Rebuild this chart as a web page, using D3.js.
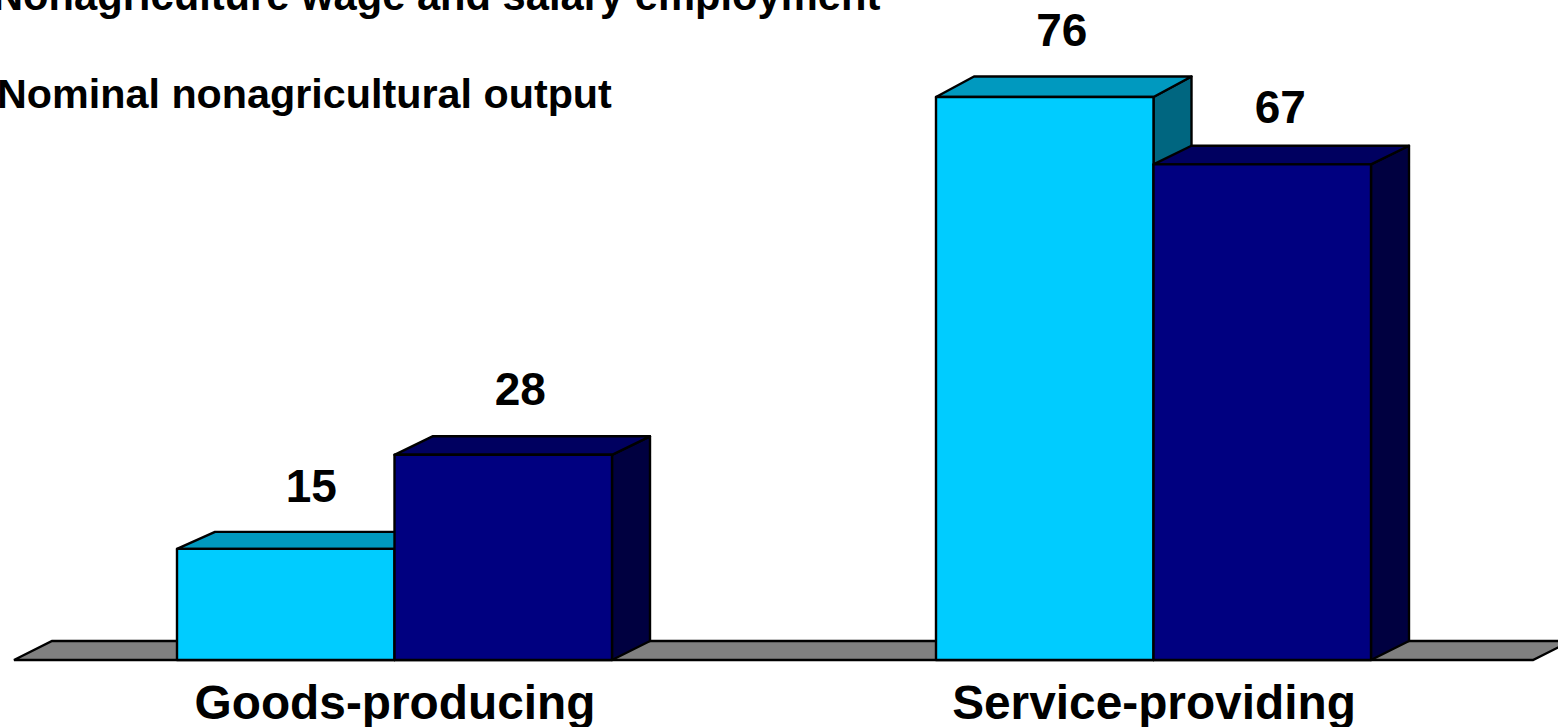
<!DOCTYPE html>
<html>
<head>
<meta charset="utf-8">
<script src="https://cdn.jsdelivr.net/npm/d3@7"></script>
<style>
  html, body { margin: 0; padding: 0; background: #fff; overflow: hidden; }
  text { font-family: "Liberation Sans", Arial, sans-serif; font-weight: bold; fill: #000; }
</style>
</head>
<body>
<div id="chart"></div>
<script>
var categories = ["Goods-producing", "Service-providing"];
var seriesNames = ["Nonagriculture wage and salary employment", "Nominal nonagricultural output"];
var employment = [15, 76];
var output = [27.7, 66.9];

var width = 1558, height = 727;
var baseY = 660;
var depthX = 38, depthY = 19;

var colors = [
  { front: "#00ccff", top: "#0099bf", side: "#006680" },
  { front: "#000080", top: "#000060", side: "#000040" }
];

// hand placed in the source slide, per bar: label dx, label gap, top face depth
var labelDx = [25.5, 17, 17, 18];
var labelGap = [47, 50, 51, 41];
var topDepth = [17, 18.5, 20.5, 18.7];

var svg = d3.select("#chart").append("svg")
  .attr("width", width)
  .attr("height", height)
  .style("display", "block");

var x0 = d3.scaleBand().domain(categories).range([15, 1533]);
var x1 = d3.scaleBand().domain([0, 1]).range([0, 435]);
var y = d3.scaleLinear().domain([0, 76]).range([baseY, 97]);
var fmt = d3.format(".0f");

function poly(pts) {
  return d3.line()(pts) + "Z";
}

// floor
svg.append("path")
  .attr("d", poly([
    [x0.range()[0] - 1, baseY],
    [x0.range()[0] - 1 + depthX, baseY - depthY],
    [x0.range()[1] + depthX, baseY - depthY],
    [x0.range()[1], baseY]
  ]))
  .attr("fill", "#808080")
  .attr("stroke", "#000")
  .attr("stroke-width", 2.4);

// flatten to draw left to right, so each bar covers its neighbour's side
var bars = [];
categories.forEach(function(c, i) {
  [employment[i], output[i]].forEach(function(v, s) {
    bars.push({ cat: c, value: v, series: s });
  });
});

var groupOffset = (x0.bandwidth() - 435) / 2;

var bar = svg.selectAll("g.bar")
  .data(bars)
  .enter().append("g")
  .attr("class", "bar")
  .attr("stroke", "#000")
  .attr("stroke-width", 2.4)
  .attr("stroke-linejoin", "round");

function left(d) { return x0(d.cat) + groupOffset + x1(d.series); }
function right(d) { return left(d) + x1.bandwidth(); }

bar.append("path")
  .attr("d", function(d, i) {
    return poly([[right(d), y(d.value)], [right(d) + depthX, y(d.value) - topDepth[i]],
      [right(d) + depthX, baseY - depthY], [right(d), baseY]]);
  })
  .attr("fill", function(d) { return colors[d.series].side; });

bar.append("path")
  .attr("d", function(d, i) {
    return poly([[left(d), y(d.value)], [left(d) + depthX, y(d.value) - topDepth[i]],
      [right(d) + depthX, y(d.value) - topDepth[i]], [right(d), y(d.value)]]);
  })
  .attr("fill", function(d) { return colors[d.series].top; });

bar.append("rect")
  .attr("x", left)
  .attr("y", function(d) { return y(d.value); })
  .attr("width", x1.bandwidth())
  .attr("height", function(d) { return baseY - y(d.value); })
  .attr("fill", function(d) { return colors[d.series].front; });

// value labels
svg.selectAll("text.value")
  .data(bars)
  .enter().append("text")
  .attr("class", "value")
  .attr("x", function(d, i) { return left(d) + x1.bandwidth() / 2 + labelDx[i]; })
  .attr("y", function(d, i) { return y(d.value) - labelGap[i]; })
  .attr("text-anchor", "middle")
  .style("font-size", "46px")
  .text(function(d) { return fmt(d.value); });

// category labels
svg.selectAll("text.cat")
  .data(categories)
  .enter().append("text")
  .attr("class", "cat")
  .attr("x", function(d) { return x0(d) + x0.bandwidth() / 2 + 0.5; })
  .attr("y", 718.5)
  .attr("text-anchor", "middle")
  .style("font-size", "47.8px")
  .text(function(d) { return d; });

// series names, cut off at the page edge as in the source
svg.selectAll("text.series")
  .data(seriesNames)
  .enter().append("text")
  .attr("class", "series")
  .attr("x", function(d, i) { return i === 0 ? -7 : -3; })
  .attr("y", function(d, i) { return i === 0 ? 10 : 108; })
  .style("font-size", function(d, i) { return i === 0 ? "41.7px" : "41.3px"; })
  .text(function(d) { return d; });
</script>
</body>
</html>
